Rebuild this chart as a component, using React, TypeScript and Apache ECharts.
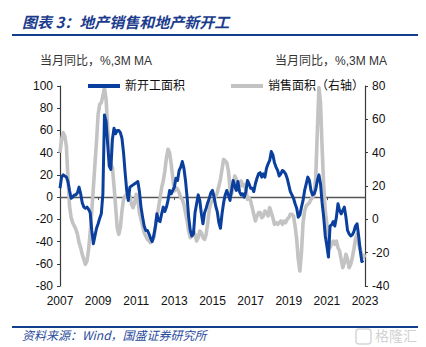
import React, { useEffect, useRef } from "react";
import * as echarts from "echarts";

// Monthly categories 2007-01 .. 2023-01
const START_YEAR = 2007;
const MONTH_COUNT = 193;
const months: string[] = Array.from(
  { length: MONTH_COUNT },
  (_, i) => `${START_YEAR + Math.floor(i / 12)}-${String((i % 12) + 1).padStart(2, "0")}`
);

// 新开工面积 (left axis), % YoY 3M MA
const newStarts: number[] = [
  8, 18, 20, 19, 18, 14, 6, -1, 0, 2, 2, 4,
  9, 3, -5, -9, -10, -9, -11, -14, -30, -42, -35, -28,
  -24, -19, -15, 3, 74, 68, 48, 28, 25, 52, 62, 57,
  60, 60, 58, 53, 40, 22, 6, -3, 9, 10, 11, 12,
  13, 14, 5, -9, -18, -26, -30, -30, -33, -37, -40, -35,
  -27, -15, -21, -22, -15, -9, -13, -9, -3, 6, 3, 6,
  9, 17, 15, 24, 27, 32, 26, 15, 0, -18, -30, -35,
  -33, -14, -6, 2, -3, -15, -24, -14, -10, -5, -1, 4,
  6, 0, -8, -13, -23, -28, -15, -5, 2, 6, 2, -3,
  6, 15, 10, 6, 14, 5, 2, 3, 0, 5, 15, 12,
  8, 8, 5, 12, 17, 21, 22, 18, 21, 18, 26, 30,
  33, 41, 38, 31, 27, 24, 19, 21, 24, 23, 21, 17,
  11, 5, 2, -1, -6, -10, -18, -16, -9, -3, 6, 12,
  18, 15, 6, 2, 3, 7, 15, 20, 12, -5, -18, -35,
  -44, -54, -26, -25, -22, -26, -18, -6, -12, -15, -12, -9,
  -18, -30, -33, -35, -34, -31, -26, -24, -35, -48, -58, -57,
];

// 销售面积 (right axis), % YoY 3M MA
const sales: number[] = [
  40, 48, 52, 50, 44, 25, 8, 1, -2, -4, -6, -9,
  -14, -17, -21, -24, -27, -25, -18, -8, 5, 19, 33, 47,
  63, 69, 70, 74, 79, 72, 55, 40, 33, 31, 20, 8,
  -5, -9, -5, 5, 12, 14, 15, 15, 14, 9, 7, 10,
  15, 12, 4, 0, -4, -8, -10, -12, -13, -14, -13, -11,
  -5, 1, 7, 13, 19, 23, 29, 37, 42, 40, 33, 25,
  17, 19, 18, 16, 13, 12, 9, 4, -1, -7, -11, -10,
  -7, -9, -13, -11, -7, -8, -11, -12, -9, -2, 6, 10,
  11, 12, 14, 16, 20, 24, 30, 36, 35, 34, 29, 19,
  15, 19, 26, 24, 21, 20, 23, 20, 21, 18, 12, 13,
  11, 7, 3, -1, 2, 4, 4, 1, 2, 5, 4, 2,
  7, 4, 1, -3, -2, -3, -2, -1, -3, -1, -2, 0,
  1, 3, 3, 2, -4, -12, -24, -31, -20, -2, 5, 8,
  9, 10, 12, 13, 15, 25, 53, 79, 70, 43, 20, 5,
  -3, -12, -17, -15, -13, -15, -13, -17, -19, -24, -29, -26,
  -21, -24, -29, -27, -23, -18, -12, -9, -15, -18, -21, -23, -21,
];

const seriesNames = ["新开工面积", "销售面积（右轴）"];
const leftAxisRange = { min: -80, max: 100, interval: 20 };
const rightAxisRange = { min: -40, max: 80, interval: 20 };
const labelEvery = 24;

const TITLE = "图表 3：地产销售和地产新开工";
const UNIT = "当月同比，%,3M MA";
const SOURCE = "资料来源：Wind，国盛证券研究所";

const FONT = '"Liberation Sans", Arial, "Noto Sans CJK SC", sans-serif';
const BLUE = "#0A3F9E";
const GRAY = "#C3C3C3";
const AXIS = "#3a3a3a";

export default function App() {
  const ref = useRef<HTMLDivElement>(null);
  useEffect(() => {
    document.body.style.margin = "0";
    if (!ref.current) return;
    const chart = echarts.init(ref.current, undefined, { renderer: "svg" });
    chart.setOption({
      animation: false,
      backgroundColor: "#ffffff",
      textStyle: { fontFamily: FONT },
      grid: { left: 60, right: 61, top: 86, bottom: 61, containLabel: false },
      legend: {
        data: seriesNames,
        left: 83,
        top: 75,
        icon: "rect",
        itemWidth: 32,
        itemHeight: 4,
        itemGap: 46,
        textStyle: { fontSize: 12, color: "#111", fontFamily: FONT },
      },
      xAxis: [
        {
          type: "category",
          data: months,
          boundaryGap: false,
          position: "bottom",
          axisLine: { show: false, onZero: false },
          axisTick: { show: false },
          axisLabel: {
            interval: (idx: number) => idx % labelEvery === 0,
            formatter: (v: string) => v.slice(0, 4),
            fontSize: 12,
            color: "#111",
            margin: 9,
            fontFamily: FONT,
          },
          splitLine: { show: false },
        },
        {
          type: "category",
          data: months,
          boundaryGap: false,
          position: "top",
          axisLine: { show: true, onZero: true, onZeroAxisIndex: 0, lineStyle: { color: "#555", width: 1.3 } },
          axisTick: { show: true, interval: (idx: number) => idx % (labelEvery * 2) === labelEvery, length: 3, inside: true, lineStyle: { color: "#555" } },
          axisLabel: { show: false },
          splitLine: { show: false },
        },
      ],
      yAxis: [
        {
          type: "value",
          position: "left",
          ...leftAxisRange,
          axisLine: { show: true, lineStyle: { color: AXIS, width: 1.2 } },
          axisTick: { show: true, length: 3, lineStyle: { color: AXIS } },
          axisLabel: { fontSize: 12, color: "#111", margin: 7, fontFamily: FONT },
          splitLine: { show: false },
        },
        {
          type: "value",
          position: "right",
          ...rightAxisRange,
          axisLine: { show: true, lineStyle: { color: AXIS, width: 1.2 } },
          axisTick: { show: true, length: 3, lineStyle: { color: AXIS } },
          axisLabel: { fontSize: 12, color: "#111", margin: 7, fontFamily: FONT },
          splitLine: { show: false },
        },
      ],
      series: [
        {
          name: seriesNames[1],
          type: "line",
          xAxisIndex: 0,
          yAxisIndex: 1,
          data: sales,
          showSymbol: false,
          symbol: "none",
          lineStyle: { color: GRAY, width: 3.6, join: "round" },
          itemStyle: { color: GRAY },
          z: 2,
        },
        {
          name: seriesNames[0],
          type: "line",
          xAxisIndex: 0,
          yAxisIndex: 0,
          data: newStarts,
          showSymbol: false,
          symbol: "none",
          lineStyle: { color: BLUE, width: 3, join: "round" },
          itemStyle: { color: BLUE },
          z: 3,
        },
      ],
      graphic: [
        {
          type: "text",
          left: 22,
          top: 14,
          style: {
            text: TITLE,
            fill: "#1B3C8C",
            font: 'italic bold 15px "Noto Sans CJK SC", sans-serif',
          },
        },
        {
          type: "line",
          shape: { x1: 12, y1: 35, x2: 418, y2: 35 },
          style: { stroke: "#123E8E", lineWidth: 2 },
        },
        {
          type: "text",
          left: 40,
          top: 55,
          style: { text: UNIT, fill: "#333", font: `12px ${FONT}` },
        },
        {
          type: "text",
          left: 275,
          top: 55,
          style: { text: UNIT, fill: "#333", font: `12px ${FONT}` },
        },
        {
          type: "line",
          shape: { x1: 12, y1: 327, x2: 418, y2: 327 },
          style: { stroke: "#123E8E", lineWidth: 2 },
        },
        {
          type: "text",
          left: 22,
          top: 328,
          style: {
            text: SOURCE,
            fill: "#2A4C9C",
            font: 'italic 12px "Noto Sans CJK SC", sans-serif',
          },
        },
        {
          type: "rect",
          shape: { x: 356, y: 329, width: 15, height: 15, r: 3 },
          style: { fill: "none", stroke: "#d6d6d6", lineWidth: 1.5 },
        },
        {
          type: "text",
          left: 375,
          top: 328,
          style: { text: "格隆汇", fill: "#d2d2d2", font: '14px "Noto Sans CJK SC", sans-serif' },
        },
      ],
    });
    return () => chart.dispose();
  }, []);
  return <div ref={ref} style={{ width: 426, height: 347 }} />;
}
